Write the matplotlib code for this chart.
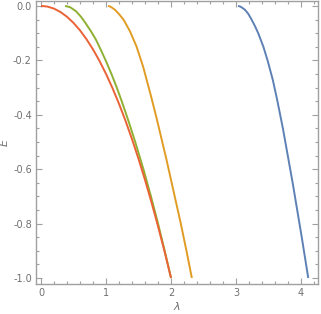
import numpy as np
import matplotlib
matplotlib.use("Agg")
import matplotlib.pyplot as plt
from matplotlib.ticker import MultipleLocator, FormatStrFormatter

# values (lambda, E)
red_lam = [0.0, 0.1, 0.2, 0.3, 0.4, 0.5, 0.6, 0.7, 0.8, 0.9, 1.0, 1.1, 1.2, 1.3, 1.4, 1.5,
           1.6, 1.7, 1.8, 1.9, 2.0]
red_E = [0.0, -0.0025, -0.01, -0.0225, -0.04, -0.0625, -0.09, -0.1225, -0.16, -0.2025, -0.25,
         -0.3025, -0.36, -0.4225, -0.49, -0.5625, -0.64, -0.7225, -0.81, -0.9025, -1.0]

green_lam = [0.37, 0.45, 0.54, 0.615, 0.69, 0.773, 0.847, 0.927, 1.003, 1.083, 1.165, 1.241,
             1.341, 1.449, 1.575, 1.691, 1.80, 1.902, 2.0]
green_E = [0.0, -0.005, -0.02, -0.04, -0.065, -0.095, -0.125, -0.165, -0.205, -0.25, -0.3,
           -0.35, -0.42, -0.5, -0.6, -0.7, -0.8, -0.9, -1.0]

orange_lam = [1.03, 1.06, 1.09, 1.14, 1.20, 1.27, 1.37, 1.47, 1.57, 1.69, 1.775, 1.855, 1.93,
              2.0, 2.075, 2.15, 2.237, 2.32]
orange_E = [0.0, -0.002, -0.006, -0.015, -0.03, -0.051, -0.094, -0.15, -0.223, -0.33, -0.41,
            -0.49, -0.565, -0.64, -0.72, -0.8, -0.9, -1.0]

blue_lam = [3.03, 3.06, 3.09, 3.14, 3.19, 3.24, 3.29, 3.34, 3.42, 3.49, 3.565, 3.63, 3.72,
            3.795, 3.87, 3.94, 4.01, 4.06, 4.11]
blue_E = [0.0, -0.002, -0.006, -0.015, -0.03, -0.051, -0.074, -0.10, -0.15, -0.205, -0.272,
          -0.343, -0.45, -0.55, -0.65, -0.75, -0.85, -0.925, -1.0]

curves = [
    (blue_lam, blue_E, "#5E81B5"),
    (orange_lam, orange_E, "#E19C24"),
    (green_lam, green_E, "#8FB032"),
    (red_lam, red_E, "#EB6235"),
]

fig = plt.figure(figsize=(3.21, 3.14), dpi=100)
ax = fig.add_axes([36 / 321, 30 / 314, 282 / 321, 283 / 314])

for lam, E, c in curves:
    ax.plot(lam, E, color=c, lw=1.4, solid_capstyle="butt", solid_joinstyle="round")

ax.set_xlim(-0.077, 4.26)
ax.set_ylim(-1.022, 0.018)

gray = "#a0a0a0"
for s in ax.spines.values():
    s.set_color(gray)
    s.set_linewidth(1.0)

ax.xaxis.set_major_locator(MultipleLocator(1))
ax.xaxis.set_minor_locator(MultipleLocator(0.2))
ax.yaxis.set_major_locator(MultipleLocator(0.2))
ax.yaxis.set_minor_locator(MultipleLocator(0.05))
ax.yaxis.set_major_formatter(FormatStrFormatter("%.1f"))
ax.tick_params(which="both", direction="in", color=gray, top=True, right=True,
               labelsize=7, labelcolor="#707070", width=0.8)
ax.tick_params(which="major", length=4, pad=3)
ax.tick_params(which="minor", length=2)

ax.set_xlabel("λ", fontsize=8, color="#707070", style="italic", labelpad=3)
ax.set_ylabel("E", fontsize=8, color="#707070", style="italic", labelpad=2)

fig.savefig("out.png", dpi=100)
